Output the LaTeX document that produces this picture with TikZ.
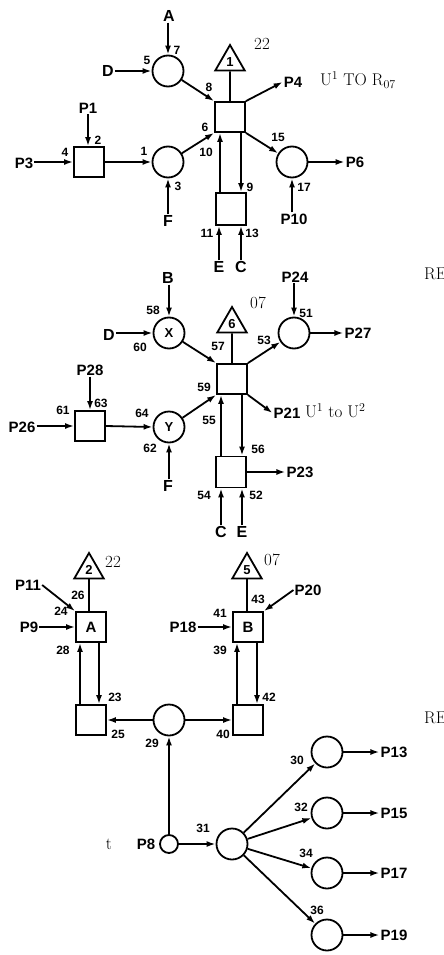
\documentclass[tikz,border=0pt]{standalone}
\usepackage{fontspec}
\newfontfamily\labfont{Liberation Sans}
\usetikzlibrary{arrows.meta,shapes.geometric}
\begin{document}
\begin{tikzpicture}[x=1pt,y=-1pt,
  lw/.style={line width=1.8pt},
  arr/.style={lw,-{Latex[length=9pt,width=6pt]}},
  sq/.style={draw,lw,rectangle,minimum width=30pt,minimum height=30pt,inner sep=0pt,font=\labfont\bfseries\fontsize{15}{15}\selectfont},
  circ/.style={draw,lw,circle,minimum size=31pt,inner sep=0pt,font=\labfont\bfseries\fontsize{13}{13}\selectfont},
  tri/.style={draw,lw,regular polygon,regular polygon sides=3,minimum size=34pt,inner sep=0pt,font=\labfont\bfseries\fontsize{13}{13}\selectfont},
  lab/.style={inner sep=1pt,font=\labfont\bfseries\fontsize{15}{15}\selectfont},
  big/.style={inner sep=1pt,font=\labfont\bfseries\fontsize{16}{16}\selectfont},
  num/.style={inner sep=0pt,font=\labfont\bfseries\fontsize{12}{12}\selectfont},
  ser/.style={inner sep=0pt,font=\fontsize{17}{19}\selectfont}]
\useasboundingbox (0,0) rectangle (444,955);

% ---------- section 1
\node[circ] (cD) at (168,71) {};
\node[big] (lA) at (169,16) {A};
\draw[arr] (cD |- lA.south) -- (cD.north);
\node[big] (lD) at (108,71) {D};
\draw[arr] (lD.east) -- (cD.west);
\node[num] (n7) at (177,50) {7};
\node[num] (n5) at (147,60) {5};
\node[sq] (s1) at (230,117) {};
\node[tri] (t1) at (230,62) {1};
\draw[lw] (t1.south) -- (s1.north);
\node[ser] (n22a) at (262,44) {22};
\draw[arr] (cD) -- (s1.north west);
\node[num] (n8) at (209,87) {8};
\node[lab] (lP4) at (293,82) {P4};
\draw[arr] (s1.north east) -- (lP4.west);
\node[ser,anchor=west] (tU1) at (320,80) {U$^1$\hspace{5pt}TO\hspace{5pt}R$_{07}$};
\node[circ] (cP6) at (292,162) {};
\draw[arr] (s1.south east) -- (cP6);
\node[num] (n15) at (278,137) {15};
\node[lab] (lP6) at (355,162) {P6};
\draw[arr] (cP6.east) -- (lP6.west);
\node[lab] (lP10) at (294,219) {P10};
\draw[arr] (cP6 |- lP10.north) -- (cP6.south);
\node[num] (n17) at (304,187) {17};
\node[sq,minimum height=32pt] (s1b) at (231,209) {};
\draw[arr] ([xshift=-11pt]s1b.north) -- ([xshift=-11pt]s1b.north |- s1.south);
\draw[arr] ([xshift=10pt]s1b.north |- s1.south) -- ([xshift=10pt]s1b.north);
\node[num] (n10) at (206,152) {10};
\node[num] (n9) at (250,187) {9};
\node[big] (lE1) at (219,267) {E};
\node[big] (lC1) at (241,267) {C};
\draw[arr] (lE1.north) -- (lE1.north |- s1b.south);
\draw[arr] (lC1.north) -- (lC1.north |- s1b.south);
\node[num] (n11) at (207,233) {11};
\node[num] (n13) at (252,233) {13};
\node[sq] (sP1) at (89,162) {};
\node[lab] (lP1) at (88,108) {P1};
\draw[arr] (lP1.south) -- (lP1.south |- sP1.north);
\node[num] (n2) at (98,140) {2};
\node[num] (n4) at (65,152) {4};
\node[lab] (lP3) at (24,163) {P3};
\draw[arr] (lP3.east |- sP1.west) -- (sP1.west);
\node[circ] (c1) at (168,162) {};
\draw[arr] (sP1.east) -- (c1.west);
\node[num] (n1) at (144,151) {1};
\draw[arr] (c1) -- (s1.south west);
\node[num] (n6) at (205,127) {6};
\node[big] (lF1) at (168,221) {F};
\draw[arr] (lF1.north) -- (c1.south);
\node[num] (n3) at (178,186) {3};
\node[ser,anchor=west] (re1) at (424,274) {RE};

% ---------- section 2
\node[big] (lB) at (168,278) {B};
\node[circ] (cX) at (169,333) {X};
\draw[arr] (cX |- lB.south) -- (cX.north);
\node[num] (n58) at (153,310) {58};
\node[big] (lD2) at (109,335) {D};
\draw[arr] (lD2.east |- cX) -- (cX.west);
\node[num] (n60) at (140,347) {60};
\node[sq] (s2) at (232,379) {};
\draw[arr] (cX) -- (s2.north west);
\node[num] (n57) at (218,346) {57};
\node[tri] (t6) at (232,324) {6};
\draw[lw] (t6.south) -- (s2.north);
\node[ser] (n07a) at (258,303) {07};
\node[circ] (cP27) at (294,333) {};
\node[lab] (lP24) at (295,277) {P24};
\draw[arr] (cP27 |- lP24.south) -- (cP27.north);
\node[num] (n51) at (306,313) {51};
\draw[arr] (s2.north east) -- (cP27);
\node[num] (n53) at (264,340) {53};
\node[lab] (lP27) at (358,333) {P27};
\draw[arr] (cP27.east) -- (lP27.west);
\node[lab] (lP21) at (287,413) {P21};
\draw[arr] (s2.south east) -- (lP21.west);
\node[ser,anchor=west] (tU2) at (305,411) {U$^1$ to U$^2$};
\node[sq,minimum height=31pt] (s2b) at (231,472) {};
\draw[arr] ([xshift=-10pt]s2b.north) -- ([xshift=-10pt]s2b.north |- s2.south);
\draw[arr] ([xshift=11pt]s2b.north |- s2.south) -- ([xshift=11pt]s2b.north);
\node[num] (n59) at (204,387) {59};
\node[num] (n55) at (209,420) {55};
\node[num] (n56) at (258,449) {56};
\node[lab] (lP23) at (300,472) {P23};
\draw[arr] (s2b.east) -- (lP23.west);
\node[big] (lC2) at (221,532) {C};
\node[big] (lE2) at (242,532) {E};
\draw[arr] (lC2.north) -- (lC2.north |- s2b.south);
\draw[arr] (lE2.north) -- (lE2.north |- s2b.south);
\node[num] (n54) at (204,495) {54};
\node[num] (n52) at (256,495) {52};
\node[sq] (sP26) at (90,426) {};
\node[lab] (lP28) at (90,370) {P28};
\draw[arr] (sP26 |- lP28.south) -- (sP26.north);
\node[num] (n63) at (101,403) {63};
\node[lab] (lP26) at (22,427) {P26};
\draw[arr] (lP26.east |- sP26) -- (sP26.west);
\node[num] (n61) at (63,410) {61};
\node[circ] (cY) at (169,427) {Y};
\draw[arr] (sP26.east) -- (cY.west);
\node[num] (n64) at (142,413) {64};
\draw[arr] (cY) -- (s2.south west);
\node[big] (lF2) at (168,486) {F};
\draw[arr] (cY |- lF2.north) -- (cY.south);
\node[num] (n62) at (150,448) {62};

% ---------- section 3
\node[sq] (bA) at (91,627) {A};
\node[tri] (t2) at (89,570) {2};
\draw[lw] (t2.south) -- (t2.south |- bA.north);
\node[ser] (n22b) at (113,562) {22};
\node[lab] (lP11) at (28,585) {P11};
\draw[arr] (lP11.east) -- (bA.north west);
\node[num] (n24) at (61,611) {24};
\node[num] (n26) at (78,595) {26};
\node[lab] (lP9) at (29,627) {P9};
\draw[arr] (lP9.east) -- (bA.west);
\node[sq] (bA2) at (91,720) {};
\draw[arr] ([xshift=-11pt]bA2.north) -- ([xshift=-11pt]bA2.north |- bA.south);
\draw[arr] ([xshift=8pt]bA2.north |- bA.south) -- ([xshift=8pt]bA2.north);
\node[num] (n28) at (63,650) {28};
\node[num] (n23) at (115,697) {23};
\node[circ] (c29) at (169,720) {};
\draw[arr] (c29.west) -- (bA2.east);
\node[num] (n25) at (118,734) {25};
\node[sq] (bB2) at (248,720) {};
\draw[arr] (c29.east) -- (bB2.west);
\node[num] (n40) at (223,734) {40};
\node[sq] (bB) at (248,627) {B};
\draw[arr] ([xshift=-11pt]bB2.north) -- ([xshift=-11pt]bB2.north |- bB.south);
\draw[arr] ([xshift=9pt]bB2.north |- bB.south) -- ([xshift=9pt]bB2.north);
\node[num] (n39) at (220,650) {39};
\node[num] (n42) at (269,697) {42};
\node[lab] (lP18) at (183,627) {P18};
\draw[arr] (lP18.east) -- (bB.west);
\node[num] (n41) at (220,613) {41};
\node[tri] (t5) at (247,570) {5};
\draw[lw] (t5.south) -- (t5.south |- bB.north);
\node[ser] (n07b) at (272,560) {07};
\node[lab] (lP20) at (308,590) {P20};
\draw[arr] (lP20.west) -- (bB.north east);
\node[num] (n43) at (258,599) {43};
\node[ser,anchor=west] (re2) at (424,718) {RE};

\node[circ,minimum size=18pt] (cP8) at (169,844) {};
\node[lab] (lP8) at (146,844) {P8};
\node[ser] (tt) at (109,844) {t};
\draw[arr] (cP8.north) -- (c29.south);
\node[num] (n29) at (152,743) {29};
\node[circ] (c31) at (232,844) {};
\draw[arr] (cP8.east) -- (c31.west);
\node[num] (n31) at (203,828) {31};
\node[circ] (c30) at (327,752) {};
\node[circ] (c32) at (327,813) {};
\node[circ] (c34) at (327,873) {};
\node[circ] (c36) at (327,935) {};
\draw[arr] (c31) -- (c30);
\draw[arr] (c31) -- (c32);
\draw[arr] (c31) -- (c34);
\draw[arr] (c31) -- (c36);
\node[num] (n30) at (297,760) {30};
\node[num] (n32) at (301,807) {32};
\node[num] (n34) at (306,853) {34};
\node[num] (n36) at (317,910) {36};
\node[lab] (lP13) at (394,752) {P13};
\node[lab] (lP15) at (394,813) {P15};
\node[lab] (lP17) at (394,873) {P17};
\node[lab] (lP19) at (394,935) {P19};
\draw[arr] (c30.east) -- (lP13.west);
\draw[arr] (c32.east) -- (lP15.west);
\draw[arr] (c34.east) -- (lP17.west);
\draw[arr] (c36.east) -- (lP19.west);
\end{tikzpicture}
\end{document}
